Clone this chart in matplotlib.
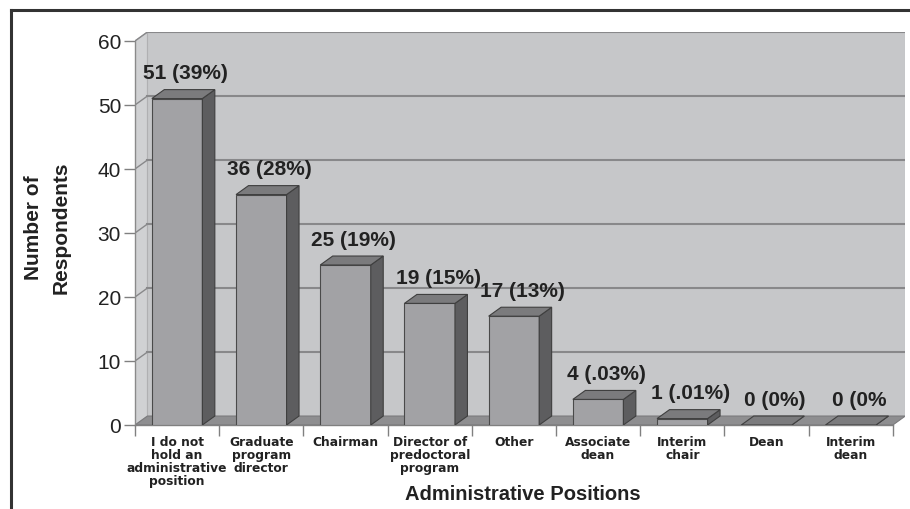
import numpy as np
import matplotlib
matplotlib.use("Agg")
import matplotlib.pyplot as plt
from matplotlib.lines import Line2D

plt.rcParams['font.family'] = ['Liberation Sans', 'DejaVu Sans']

# data
positions = ["I do not\nhold an\nadministrative\nposition", "Graduate\nprogram\ndirector",
             "Chairman", "Director of\npredoctoral\nprogram", "Other", "Associate\ndean",
             "Interim\nchair", "Dean", "Interim\ndean"]
counts = [51, 36, 25, 19, 17, 4, 1, 0, 0]
count_labels = ["51 (39%)", "36 (28%)", "25 (19%)", "19 (15%)", "17 (13%)", "4 (.03%)",
                "1 (.01%)", "0 (0%)", "0 (0%"]
yticks = [0, 10, 20, 30, 40, 50, 60]

# 3d look: depth offsets in data units
dx = 0.148
dy = 1.4
w = 0.6
ymax = 60
n = len(counts)
x = np.arange(n)

fig = plt.figure(figsize=(9.1, 5.1), dpi=100)
ax = fig.add_axes([135 / 910, 84 / 510, 770.3 / 910, 393 / 510])
ax.set_xlim(-0.5, n - 0.5 + dx)
ax.set_ylim(0, ymax + dy)
for s in ax.spines.values():
    s.set_visible(False)
ax.patch.set_visible(False)

left, right = -0.5, n - 0.5
wall_col = '#c6c7c9'
side_wall_col = '#d0d1d3'
floor_col = '#8e8e90'
grid_col = '#88888a'

# back wall
ax.fill([left + dx, right + dx, right + dx, left + dx], [dy, dy, ymax + dy, ymax + dy],
        color=wall_col, ec='#b8b8ba', lw=0.8, zorder=0)
# left wall
ax.fill([left, left + dx, left + dx, left], [0, dy, ymax + dy, ymax],
        color=side_wall_col, ec='#b0b0b2', lw=0.8, zorder=0.5)
# gridlines on back and left wall
for t in yticks[1:]:
    ax.plot([left + dx, right + dx], [t + dy, t + dy], color=grid_col, lw=1.5, zorder=1)
    ax.plot([left, left + dx], [t, t + dy], color=grid_col, lw=1.0, zorder=1)
# floor
ax.fill([left, right, right + dx, left + dx], [0, 0, dy, dy],
        color=floor_col, ec='#7a7a7c', lw=0.8, zorder=1.5)

# bars
ax.bar(x, counts, width=w, color='#a2a2a5', edgecolor='#4a4a4a', linewidth=0.8, zorder=3)
for xi, v in zip(x, counts):
    r = xi + w / 2
    l = xi - w / 2
    ax.fill([r, r + dx, r + dx, r], [0, dy, v + dy, v], color='#5d5d5f',
            ec='#3f3f3f', lw=0.8, zorder=3)
    ax.fill([l, l + dx, r + dx, r], [v, v + dy, v + dy, v], color='#7b7b7d',
            ec='#3f3f3f', lw=0.8, zorder=3.5)

# value labels
for xi, v, lab in zip(x, counts, count_labels):
    ax.text(xi + 0.1, v + dy + 2.6, lab, ha='center', va='center', fontsize=15,
            fontweight='bold', color='#222222', zorder=5)

# front axis lines
ax.plot([left, left], [0, ymax], color='#8a8a8a', lw=1.0, zorder=2, clip_on=False)
ax.plot([left, right], [0, 0], color='#808080', lw=1.0, zorder=2, clip_on=False)

ax.set_yticks(yticks)
ax.tick_params(axis='y', length=8, width=1, color='#808080', labelsize=15,
               labelcolor='#222222', pad=2)
ax.set_xticks(x)
ax.set_xticklabels(positions, fontsize=8.8, fontweight='bold', linespacing=1.0,
                   color='#222222', family='DejaVu Sans')
ax.set_xticks(np.arange(n + 1) - 0.5, minor=True)
ax.tick_params(axis='x', which='major', length=0, pad=7)
ax.tick_params(axis='x', which='minor', length=8, width=1, color='#808080')

fig.text(523 / 910, 1 - 495 / 510, "Administrative Positions", ha='center', va='center',
         fontsize=14.5, fontweight='bold', color='#222222')
fig.text(47 / 910, 1 - 228 / 510, "Number of\nRespondents", ha='center', va='center',
         rotation=90, fontsize=15, fontweight='bold', color='#222222', linespacing=1.55)

# frame lines of the figure
fig.add_artist(Line2D([11 / 910, 1], [1 - 11 / 510, 1 - 11 / 510], color='#333333', lw=2.2))
fig.add_artist(Line2D([11 / 910, 11 / 910], [0, 1 - 11 / 510], color='#333333', lw=2.2))

fig.savefig("out.png", dpi=100)
